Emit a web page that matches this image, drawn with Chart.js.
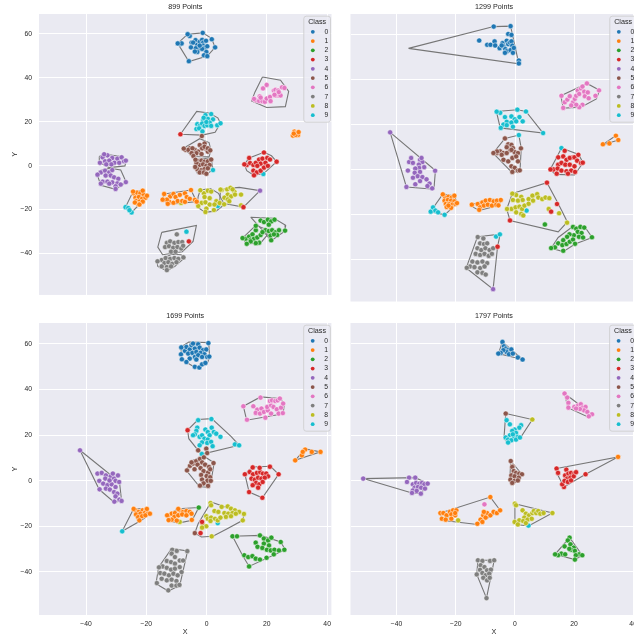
<!DOCTYPE html>
<html>
<head>
<meta charset="utf-8">
<script src="https://cdn.jsdelivr.net/npm/chart.js@4.4.1/dist/chart.umd.min.js"></script>
<style>
  html, body { margin: 0; padding: 0; background: #fff; overflow: hidden; }
  #fig { position: relative; width: 634px; height: 640px; overflow: hidden; }
  canvas { position: absolute; }
</style>
</head>
<body>
<div id="fig">
  <canvas id="p899" width="336" height="306" style="left:0;top:0"></canvas>
  <canvas id="p1299" width="296" height="306" style="left:346px;top:0"></canvas>
  <canvas id="p1699" width="336" height="334" style="left:0;top:306px"></canvas>
  <canvas id="p1797" width="296" height="334" style="left:346px;top:306px"></canvas>
</div>
<script>
// ---- data ----
const classes = ['0', '1', '2', '3', '4', '5', '6', '7', '8', '9'];
const panelTitles = ['899 Points', '1299 Points', '1699 Points', '1797 Points'];
const xTicks = [-40, -20, 0, 20, 40];
const yTicks = [-40, -20, 0, 20, 40, 60];

// points per class, [x, y]
const pts899 = [
  [[-8.7,55.4],[-8.3,55.7],[-5.6,59.1],[-5.0,56.1],[-5.2,53.9],[-3.7,57.2],[-3.2,55.1],[-2.3,56.4],[-1.5,57.3],[-1.1,56.1],[-0.2,56.9],[-1.2,54.7],[-2.8,52.9],[-3.6,53.5],[-0.7,53.7],[-1.5,53.2],[-0.1,51.8],[-0.9,50.3],[-3.1,51.8],[1.7,57.6],[-3.9,52.0],[-4.5,56.1],[-2.3,54.7],[0.2,54.4],[-9.6,55.7],[-6.3,59.9],[-1.3,60.5],[2.8,53.9],[0.2,49.9],[-5.9,47.6]],
  [[28.6,13.7],[29.1,15.5],[29.7,14.9],[30.3,14.0],[29.5,14.0],[28.9,14.6],[30.5,15.3],
   [-24.2,-12.6],[-23.1,-12.3],[-22.0,-12.6],[-20.9,-13.3],[-23.6,-14.6],[-22.5,-14.3],[-21.4,-15.1],[-20.3,-14.6],[-23.4,-16.1],[-22.3,-16.4],[-21.2,-16.4],[-22.7,-17.5],[-23.8,-16.8],[-24.4,-11.8],[-21.2,-11.4],[-19.8,-13.7],[-22.3,-17.7],
   [-12.1,-14.0],[-11.0,-12.9],[-10.3,-14.3],[-8.9,-13.3],[-7.2,-12.6],[-6.6,-14.3],[-5.6,-15.1],[-3.9,-15.6],[-12.4,-16.5],[-11.0,-16.9],[-9.6,-16.1],[-8.1,-16.1],[-7.2,-16.5],[-13.2,-15.5],[-14.1,-12.9],[-5.2,-11.1],[-3.3,-16.4],[-12.9,-17.4],[-14.6,-15.5]],
  [[17.9,-25.0],[19.0,-25.7],[20.3,-24.6],[21.4,-25.4],[22.5,-24.6],[20.6,-26.9],[19.5,-29.4],[20.6,-29.8],[21.7,-29.4],[22.8,-30.4],[23.4,-31.6],[21.2,-31.9],[22.3,-31.3],[24.0,-29.4],[26.0,-29.6],[21.4,-34.0],
   [13.0,-33.3],[14.1,-32.3],[15.2,-31.3],[16.3,-29.4],[14.6,-33.8],[15.7,-33.3],[16.8,-32.7],[17.9,-31.6],[17.4,-35.1],[16.3,-35.3],[14.6,-34.5],[18.5,-30.3],[16.3,-27.4],[11.9,-33.0],[13.3,-35.6]],
  [[13.3,0.3],[14.4,1.2],[15.5,0.3],[16.3,1.3],[17.4,2.8],[18.5,3.2],[20.1,3.5],[21.0,2.8],[17.9,0.9],[19.5,1.3],[16.8,-0.1],[15.5,-2.3],[16.6,-3.1],[17.9,-2.3],[19.0,-0.9],[20.3,-0.1],[12.5,0.6],[14.1,3.5],[19.0,6.0],[23.2,1.8],[15.7,-4.4],
   [-8.7,14.3],[12.2,-18.9],[-5.9,-34.5]],
  [[-34.5,3.8],[-32.9,4.7],[-31.3,3.5],[-29.6,3.2],[-28.2,3.8],[-33.7,2.0],[-32.3,2.3],[-30.6,1.3],[-29.0,1.3],[-27.4,2.0],[-31.6,0.6],[-33.3,0.6],[-34.0,5.2],[-26.8,2.3],[-35.4,1.3],
   [-35.1,-3.1],[-33.7,-2.3],[-32.3,-3.1],[-31.3,-2.0],[-33.5,-4.5],[-31.8,-4.5],[-30.7,-5.3],[-29.3,-6.0],[-34.5,-7.3],[-32.9,-7.3],[-31.3,-7.6],[-29.6,-8.1],[-28.5,-8.6],[-30.2,-9.4],[-35.1,-8.2],[-32.3,-8.2],[-36.2,-4.1],[-30.2,-10.6],[-26.8,-7.5],
   [17.7,-11.4]],
  [[-7.0,7.2],[-5.6,7.9],[-3.9,7.2],[-2.8,6.4],[-1.5,8.2],[-0.7,10.1],[-0.1,7.6],[0.4,6.4],[-2.3,9.4],[-6.1,7.2],[-4.7,7.9],[-1.5,7.9],[-0.7,8.6],[-3.4,5.7],[-1.7,5.3],[0.4,7.9],[-5.0,5.7],[-7.6,7.8],[-1.6,13.5],[1.2,7.0],[-4.4,4.4],
   [-2.8,2.0],[-1.7,2.3],[-0.7,1.8],[0.4,2.0],[-2.3,0.3],[-1.2,0.6],[-0.1,-0.1],[1.0,0.3],[-3.1,-1.6],[-1.7,-2.0],[-0.7,-1.6],[0.4,-1.2],[-2.3,-3.1],[-0.9,-3.1],[1.5,2.8],[-3.4,1.3],[-3.7,2.7],[-0.1,-3.7],[-3.8,-0.6]],
  [[18.7,35.2],[19.9,36.8],[17.6,31.6],[16.3,29.8],[17.4,29.5],[18.5,29.4],[19.3,29.1],[19.9,30.6],[21.0,31.3],[21.2,29.4],[22.3,34.2],[22.8,34.5],[23.7,34.2],[23.2,32.7],[23.7,32.0],[22.8,32.0],[24.5,32.0],[25.0,35.7],[25.8,35.4],[23.9,33.5],[22.5,32.3],[15.7,30.4],[17.9,31.0]],
  [[-9.9,-31.3],[-13.2,-35.2],[-12.1,-34.5],[-10.7,-35.2],[-9.4,-34.8],[-8.1,-34.8],[-13.8,-37.1],[-12.5,-36.7],[-11.1,-37.4],[-9.7,-37.1],[-8.4,-37.7],[-11.8,-39.2],[-10.3,-39.2],[-7.8,-36.5],
   [-14.9,-43.0],[-13.6,-42.1],[-12.1,-42.5],[-10.7,-42.1],[-9.4,-42.5],[-14.0,-44.4],[-12.7,-44.0],[-11.4,-44.7],[-10.0,-44.0],[-14.9,-45.9],[-13.2,-46.2],[-11.8,-45.9],[-13.2,-47.6],[-7.7,-41.8],[-16.3,-43.6]],
  [[-0.9,-12.6],[0.4,-11.4],[1.5,-11.8],[-0.7,-14.3],[1.0,-14.8],[3.2,-16.2],[4.3,-17.0],[-1.7,-17.0],[-0.4,-16.7],[1.0,-17.7],[2.6,-17.7],[-2.8,-18.4],[-0.1,-19.6],[2.4,-20.2],[-2.1,-11.2],[5.8,-17.6],[-0.4,-21.1],
   [5.0,-11.1],[6.8,-10.8],[7.9,-10.1],[9.2,-11.9],[7.0,-13.2],[8.1,-14.0],[9.4,-13.2],[11.4,-13.2],[5.9,-14.6],[7.0,-15.4],[7.5,-16.2],[11.4,-18.1],[8.6,-10.8],[4.6,-10.9],
   [-8.5,-17.0]],
  [[-0.4,23.0],[1.5,23.5],[0.4,21.3],[-1.2,20.8],[2.1,21.1],[-3.1,18.9],[-2.3,18.1],[-1.5,19.2],[-0.7,18.1],[0.2,18.4],[1.0,19.6],[1.5,18.1],[3.5,18.4],[-3.4,16.7],[-2.5,17.0],[-1.4,15.6],[-0.1,19.9],[-1.0,21.8],[4.6,19.3],
   [2.1,-2.0],[-26.9,-18.9],[-26.0,-19.3],[-24.9,-21.3],[-25.6,-20.3],[3.7,-18.4],[18.8,-3.8],[-6.7,-30.1]]
];

const pts1299 = [
  [[-7.2,63.5],[-1.5,63.7],[-12.1,57.3],[-9.4,55.4],[-8.3,55.4],[-6.9,56.9],[-6.7,55.1],[-5.2,53.9],[-4.2,56.1],[-3.9,54.7],[-3.3,53.5],[-2.8,57.2],[-2.3,55.7],[-1.7,56.4],[-1.2,56.9],[-0.9,55.0],[-2.8,52.5],[-1.5,53.0],[-0.7,51.8],[-3.4,51.8],[-2.3,60.2],[-1.2,59.8],[-0.4,54.0],[1.3,48.4],[1.3,47.1],[-4.5,55.1]],
  [[29.7,11.1],[31.9,11.5],[34.1,14.9],[34.9,13.0],
   [-23.6,-12.6],[-22.5,-12.3],[-21.4,-12.6],[-23.8,-14.0],[-22.7,-13.7],[-21.6,-14.0],[-20.5,-14.3],[-23.4,-15.5],[-22.3,-15.5],[-21.2,-15.8],[-20.1,-15.5],[-23.1,-16.8],[-21.6,-17.2],[-22.5,-16.2],[-24.4,-11.2],[-20.5,-11.8],[-19.6,-15.1],
   [-14.6,-15.8],[-12.6,-15.5],[-11.0,-14.8],[-9.9,-14.0],[-8.5,-13.7],[-7.2,-14.3],[-6.1,-14.0],[-4.8,-13.7],[-11.8,-17.0],[-10.5,-16.2],[-9.2,-15.8],[-7.8,-16.2],[-6.3,-15.8],[-12.1,-18.1],[-5.6,-16.1]],
  [[19.6,-25.7],[20.7,-26.5],[22.1,-25.7],[23.4,-26.0],[21.2,-27.9],[22.5,-28.4],[19.9,-29.4],[21.6,-30.1],[23.0,-30.4],[18.4,-29.0],[17.6,-30.1],[16.3,-31.6],[14.6,-33.0],[16.0,-33.8],[17.4,-33.3],[18.5,-32.3],[13.5,-34.8],[16.3,-36.3],[19.6,-31.3],[12.2,-35.1],[26.0,-30.3],[20.3,-33.2],
   [10.1,-24.6]],
  [[16.8,8.2],[14.6,5.3],[19.6,5.3],[16.3,5.7],[17.4,4.2],[18.5,5.0],[20.1,5.3],[21.0,3.8],[22.3,2.8],[14.6,2.0],[15.7,2.8],[17.0,2.0],[18.5,2.0],[20.1,1.3],[13.0,-0.1],[14.4,0.3],[15.7,-0.6],[17.4,-0.9],[19.0,-0.6],[20.3,-1.2],[14.1,-2.0],[17.9,-2.0],[21.4,6.4],[22.9,2.9],[12.0,-0.1],
   [10.8,-6.0],[14.2,-15.5],[12.2,-18.9],[-1.7,-22.8],[-5.9,-34.5]],
  [[-42.2,16.4],[-35.8,3.2],[-34.5,2.8],[-32.1,4.2],[-31.3,3.2],[-32.5,2.0],[-30.7,0.9],[-32.4,0.6],[-33.7,0.3],[-36.2,-0.6],[-33.9,-1.6],[-32.1,-1.2],[-32.9,-3.1],[-34.5,-3.8],[-31.3,-3.5],[-29.9,-4.5],[-28.9,-6.4],[-32.1,-5.3],[-33.7,-6.7],[-36.7,-7.9],[-28.0,-8.5],[-31.6,5.0],[-35.1,5.0],[-29.6,-7.5],[-27.0,-0.7],
   [-7.4,-53.4]],
  [[-6.1,7.2],[-5.0,7.9],[-3.9,7.2],[-2.3,11.1],[-1.2,10.8],[-0.7,9.4],[-1.7,8.6],[-0.1,7.6],[1.0,7.2],[-2.8,9.8],[-3.4,13.7],[-6.1,7.9],[-4.5,6.4],[-2.8,7.2],[-1.2,8.6],[-3.9,4.2],[-2.3,3.5],[-0.9,5.0],[0.4,5.7],[-1.2,1.3],[-0.1,0.6],[1.0,-0.6],[-0.9,-1.2],[1.0,3.5],[-7.3,7.2],[2.0,9.3],[1.6,-0.5]],
  [[15.7,32.7],[16.8,29.8],[17.7,31.0],[18.5,32.5],[19.6,29.8],[20.2,31.3],[20.7,32.7],[21.2,35.0],[21.7,33.5],[22.3,36.0],[22.8,36.8],[23.4,34.5],[23.6,32.5],[24.3,38.2],[24.6,34.2],[24.9,31.6],[22.8,28.7],[21.7,27.6],[20.7,28.7],[27.2,32.7],[19.0,28.4],[28.4,35.1],[16.3,27.3]],
  [[-10.7,-30.8],[-11.8,-33.0],[-10.5,-33.3],[-9.4,-33.0],[-12.7,-35.2],[-11.4,-36.0],[-10.0,-35.2],[-8.6,-36.0],[-7.4,-35.2],[-13.3,-37.7],[-11.8,-38.2],[-10.3,-37.7],[-8.9,-38.6],[-7.8,-37.7],[-14.4,-41.1],[-12.7,-41.5],[-11.0,-41.1],[-9.4,-41.8],[-15.2,-43.3],[-13.7,-43.6],[-11.8,-44.0],[-10.3,-43.3],[-12.7,-45.9],[-11.0,-46.2],[-9.9,-46.9],[-12.6,-30.2],[-16.3,-43.9]],
  [[0.4,-11.5],[2.1,-12.3],[-0.7,-13.7],[1.0,-14.0],[2.6,-13.7],[4.6,-13.3],[5.9,-11.8],[7.5,-11.1],[6.1,-14.0],[7.9,-12.6],[9.2,-13.3],[10.3,-12.6],[11.6,-12.9],[-1.2,-17.7],[0.2,-17.0],[1.5,-16.7],[2.4,-17.7],[0.4,-19.2],[2.1,-19.9],[2.8,-20.6],[3.2,-16.2],[11.4,-17.7],[14.9,-19.6],[17.6,-23.8],[4.6,-15.4],[-0.9,-10.9],[-2.7,-17.7]],
  [[0.8,26.5],[3.7,25.7],[-5.0,25.1],[-3.4,23.2],[-1.2,23.5],[1.5,23.2],[-0.1,22.2],[-2.8,21.1],[-1.2,20.8],[0.4,21.3],[2.6,21.3],[-3.9,19.9],[-2.8,19.6],[-0.7,18.9],[-4.8,18.4],[9.5,16.1],[-6.2,25.6],
   [1.3,15.2],[15.7,9.4],[-28.5,-18.9],[-27.7,-17.0],[-26.9,-18.4],[-26.0,-19.2],[-23.8,-20.3],[3.9,-18.4],[-6.4,-30.0],[-5.1,-29.0]]
];

const pts1699 = [
  [[-8.5,55.4],[-7.2,56.9],[-6.7,58.6],[-5.6,57.5],[-5.0,59.4],[-3.9,57.9],[-2.8,59.8],[-2.3,58.3],[-1.2,57.2],[-0.1,57.5],[-6.1,55.7],[-4.7,56.0],[-3.4,56.4],[-2.0,56.0],[-0.7,55.4],[-3.9,54.2],[-2.8,55.0],[-1.5,54.2],[0.2,54.2],[-5.6,53.5],[-3.4,53.1],[-6.7,52.0],[-3.9,49.9],[-2.4,49.6],[-1.5,51.0],[-0.4,51.6],[-4.5,60.1],[-8.4,58.4],[0.6,60.3],[0.9,54.4],[-8.2,53.2]],
  [[29.4,8.9],[31.6,11.1],[32.7,13.6],[34.9,12.6],[37.8,12.6],[31.9,12.6],
   [-23.6,-13.0],[-22.5,-13.7],[-21.2,-13.0],[-20.1,-12.7],[-23.4,-14.8],[-21.9,-14.5],[-20.5,-14.2],[-19.4,-14.2],[-22.7,-16.0],[-21.4,-15.6],[-22.3,-17.4],[-20.3,-15.2],[-24.2,-12.4],[-19.8,-12.4],[-18.8,-14.5],
   [-12.7,-15.2],[-11.6,-14.5],[-10.5,-14.2],[-8.9,-13.0],[-7.8,-13.7],[-6.7,-13.3],[-5.6,-13.7],[-5.0,-14.5],[-10.7,-15.9],[-9.4,-15.2],[-8.1,-14.8],[-6.7,-15.2],[-11.6,-17.1],[-9.9,-17.5],[-13.1,-15.2],[-9.4,-12.4],[-4.9,-17.2],[-12.6,-17.3]],
  [[8.6,-24.4],[10.1,-24.4],[17.7,-24.0],[19.0,-25.4],[20.4,-26.2],[21.5,-25.0],[24.6,-26.9],[16.3,-27.2],[19.0,-27.6],[20.7,-28.4],[16.9,-29.0],[18.5,-29.5],[20.0,-30.3],[21.3,-30.6],[22.5,-30.3],[24.0,-30.6],[25.8,-30.3],[12.5,-32.7],[13.8,-33.5],[15.2,-33.1],[16.3,-34.2],[17.7,-34.6],[19.9,-33.8],[14.1,-37.6],[22.3,-32.3],
   [-2.6,-11.8]],
  [[12.7,2.8],[14.1,-5.0],[18.5,-7.5],[23.9,2.8],[14.3,3.8],[15.4,2.8],[16.7,3.4],[17.8,3.7],[18.7,3.1],[19.8,3.1],[20.4,1.9],[14.9,0.9],[16.0,0.4],[17.1,1.3],[18.2,0.9],[19.3,1.3],[16.4,-1.0],[17.5,-1.6],[18.6,-0.6],[15.3,-2.0],[17.1,-3.1],[17.6,5.6],[15.3,5.8],[21.0,6.1],
   [-6.3,22.1],[-2.0,-23.0],[-1.5,-18.1]],
  [[-42.0,13.3],[-36.2,3.1],[-34.8,3.4],[-33.4,2.3],[-31.8,1.9],[-30.7,0.9],[-30.2,-0.1],[-35.6,-0.1],[-34.3,-1.3],[-32.9,-2.0],[-31.5,-1.6],[-30.2,-2.8],[-33.4,-3.5],[-32.1,-3.9],[-30.7,-5.0],[-29.6,-5.7],[-30.2,-6.9],[-28.9,-8.3],[-28.2,-8.9],[-33.6,0.9],[-32.2,0.1],[-31.1,3.1],[-29.4,2.3],[-29.0,-0.6],[-30.6,-9.2],[-35.5,-3.8]],
  [[-6.5,4.5],[-5.5,6.5],[-4.5,7.5],[-3.5,8.5],[-2.2,9.5],[-0.9,10.2],[-1.5,8.0],[-3.0,7.0],[-0.5,7.0],[0.8,6.0],[-2.0,5.5],[-4.0,5.0],[-1.0,4.2],[0.5,3.5],[-1.8,2.5],[0.0,2.0],[1.2,1.5],[-1.5,0.5],[0.3,0.0],[-1.0,-1.2],[0.5,-2.3],[-2.2,-2.2],[1.2,5.0],[-5.0,8.0],[2.3,7.7],[1.4,-0.1],
   [-2.8,13.3],[-0.1,14.0],[0.2,12.1],[-3.9,-23.0]],
  [[12.2,32.6],[15.5,32.6],[17.9,36.4],[16.8,31.1],[18.2,31.6],[16.3,29.7],[17.7,29.4],[19.0,30.1],[20.3,30.8],[20.1,32.3],[21.4,33.0],[21.0,34.9],[21.7,35.2],[22.8,34.9],[23.6,35.2],[24.3,36.0],[22.2,32.3],[23.3,31.3],[24.7,32.0],[25.4,33.8],[21.4,29.4],[19.5,27.6],[23.9,29.4],[25.3,29.6],[13.4,26.7]],
  [[-11.4,-30.3],[-9.9,-30.8],[-11.6,-32.0],[-10.5,-33.5],[-13.2,-35.2],[-11.8,-35.7],[-10.5,-36.4],[-8.9,-35.0],[-7.8,-35.0],[-14.6,-37.6],[-13.2,-38.2],[-11.8,-39.0],[-10.5,-38.6],[-8.9,-37.9],[-8.3,-40.1],[-15.4,-40.5],[-14.0,-40.8],[-12.5,-41.5],[-11.0,-40.8],[-9.6,-41.5],[-14.9,-43.0],[-13.2,-43.7],[-11.6,-43.4],[-10.0,-44.0],[-16.5,-44.9],[-12.7,-48.1],[-11.6,-46.0],[-10.0,-46.0],[-6.4,-30.9],[-9.0,-45.7],[-15.8,-38.0]],
  [[1.3,-9.8],[1.5,-10.8],[2.6,-13.3],[3.9,-13.7],[5.0,-11.5],[7.0,-11.3],[8.1,-12.3],[9.4,-13.0],[10.8,-13.7],[12.0,-17.4],[5.9,-14.2],[7.2,-14.5],[8.6,-14.2],[9.7,-14.5],[6.4,-15.9],[8.1,-15.6],[-0.1,-15.6],[0.4,-16.7],[1.5,-16.2],[2.8,-16.7],[3.7,-17.4],[4.6,-16.2],[1.3,-17.7],[-1.2,-19.6],[-0.1,-20.0],[-1.5,-20.6],[1.7,-24.4],[12.4,-14.6],[-8.9,-18.1]],
  [[-2.8,26.5],[-3.1,23.2],[-3.4,21.8],[-3.9,20.3],[-4.5,19.9],[-2.3,19.2],[-1.5,19.9],[-0.4,22.4],[0.4,21.3],[1.0,19.9],[1.7,23.2],[2.4,21.3],[3.2,20.6],[4.6,19.2],[-0.7,18.4],[0.4,18.0],[-1.5,16.8],[0.2,16.5],[1.5,17.0],[-2.3,15.5],[2.0,15.1],[9.4,15.9],[10.8,15.5],[1.6,27.0],[-1.6,11.7],
   [-28.0,-22.2],[-23.1,-15.2],[3.7,-18.6]]
];

const pts1797 = [
  [[-4.2,60.8],[-3.7,58.9],[-3.1,57.9],[-2.3,57.2],[-1.7,56.4],[-2.8,56.4],[-3.9,57.2],[-1.2,57.5],[-4.8,56.0],[-5.6,55.7],[1.0,54.0],[2.6,53.1],[-2.0,55.4],[-0.7,55.7]],
  [[-25.2,-14.2],[-24.2,-14.2],[-23.1,-15.2],[-22.0,-13.7],[-20.9,-13.0],[-19.8,-13.0],[-21.5,-14.8],[-20.2,-15.2],[-24.7,-16.7],[-23.4,-17.1],[-21.5,-16.7],[-20.2,-14.2],[-11.6,-17.1],[-10.7,-15.2],[-9.4,-14.2],[-8.3,-15.2],[-7.2,-13.7],[-6.1,-14.2],[-5.0,-13.0],[-10.5,-13.7],[-9.9,-16.2],[-11.0,-18.1],[-12.7,-18.9],[-8.3,-7.2],
   [34.9,10.4]],
  [[18.5,-25.0],[17.9,-26.2],[16.8,-28.8],[18.8,-27.9],[19.9,-29.4],[19.0,-30.3],[20.3,-30.8],[15.7,-32.0],[14.6,-32.7],[13.6,-32.3],[17.0,-32.3],[21.7,-32.3],[22.8,-32.7],[20.6,-32.7],[20.3,-34.6],[18.4,-29.9]],
  [[14.1,5.3],[14.6,3.4],[16.6,-2.8],[16.0,-1.6],[17.4,4.8],[17.0,2.3],[18.1,3.1],[19.0,3.4],[20.1,3.1],[17.7,0.9],[18.8,1.3],[19.9,1.9],[16.8,-0.1],[17.9,-0.6],[19.0,0.1],[23.9,2.8],[20.7,3.7]],
  [[-51.3,0.9],[-35.8,1.3],[-33.7,1.3],[-36.5,-0.6],[-34.5,-1.6],[-33.4,-1.0],[-32.3,-1.3],[-31.4,-1.0],[-30.6,-1.6],[-29.5,-1.3],[-33.9,-3.1],[-32.8,-2.8],[-31.7,-3.1],[-34.5,-4.3],[-33.2,-4.5],[-31.8,-5.7],[-34.8,-5.4],[-30.4,-3.5]],
  [[-1.4,8.6],[-0.7,6.3],[-0.9,6.0],[-0.4,4.2],[0.4,3.4],[1.5,3.1],[2.4,2.8],[-1.2,2.3],[-0.1,1.9],[1.3,1.3],[-1.5,0.4],[-0.1,-0.1],[-0.9,-1.0],[1.0,0.1],
   [-3.1,29.4]],
  [[16.8,38.2],[17.7,36.4],[18.1,34.1],[18.1,32.0],[20.1,32.3],[21.4,33.0],[22.3,33.5],[22.8,32.0],[23.9,32.3],[23.4,30.8],[24.5,30.1],[26.1,29.1],[25.0,28.2],[22.0,31.4],[20.7,31.6],
   [-10.3,-10.4]],
  [[-12.5,-34.9],[-11.0,-35.2],[-8.4,-35.2],[-7.0,-34.9],[-11.6,-37.1],[-10.3,-37.9],[-11.8,-39.1],[-9.4,-39.3],[-8.1,-39.0],[-11.0,-40.5],[-9.9,-41.5],[-8.7,-40.8],[-12.9,-41.1],[-10.7,-42.6],[-9.4,-43.7],[-8.5,-42.6],[-9.6,-51.5]],
  [[0.0,-10.1],[0.4,-10.8],[2.6,-13.0],[3.7,-14.5],[4.8,-15.2],[5.9,-14.2],[6.4,-13.3],[7.2,-14.2],[7.9,-13.3],[8.6,-14.5],[9.7,-14.2],[12.7,-14.2],[3.2,-16.2],[1.5,-17.4],[2.8,-17.7],[4.3,-17.1],[5.7,-16.7],[-0.1,-18.1],[1.0,-19.2],[3.7,-18.6],
   [-19.2,-17.4],[5.9,26.8]],
  [[-2.8,26.5],[-1.7,24.7],[2.1,24.3],[1.5,23.2],[-0.1,22.4],[-0.9,21.8],[0.4,20.9],[-1.7,19.9],[-0.4,19.4],[1.0,19.2],[-3.1,18.9],[-2.3,18.0],[-1.2,17.7],[0.4,18.0],[1.7,18.9],[-2.3,16.7],[-0.7,20.3],
   [-23.1,-15.6],[4.6,-19.7]]
];

// convex outlines of the clusters, [x, y] vertices
const hull899 = [
  [[-9.6,55.7],[-6.3,59.9],[-1.3,60.5],[1.6,58.0],[2.8,53.9],[0.2,49.9],[-5.9,47.4]],
  [[18.5,40.4],[24.5,38.9],[27.2,33.8],[26.1,26.9],[19.9,26.5],[14.9,29.5],[16.0,33.5]],
  [[-8.7,14.3],[-3.3,24.7],[0.7,24.0],[3.7,21.8],[4.6,19.3],[2.8,15.2],[-1.5,13.9]],
  [[28.5,13.3],[29.0,15.8],[30.5,15.5],[30.6,13.6]],
  [[-7.8,7.8],[-2.3,12.3],[0.8,10.5],[1.4,7.0],[0.8,4.0],[-4.5,4.2]],
  [[-3.7,2.8],[1.5,3.5],[2.1,-2.0],[-0.1,-3.8],[-3.1,-3.5],[-3.9,-0.6]],
  [[-35.6,4.2],[-34.0,5.3],[-28.5,4.2],[-26.7,2.3],[-27.1,-0.1],[-32.3,-0.9],[-35.4,1.3]],
  [[-35.6,-2.3],[-32.1,-1.2],[-28.5,-2.0],[-26.7,-7.5],[-30.2,-10.8],[-35.1,-8.9],[-36.3,-4.1]],
  [[-26.9,-18.9],[-24.4,-11.8],[-21.2,-11.4],[-19.8,-13.7],[-22.3,-17.7],[-24.9,-21.3]],
  [[-14.1,-12.9],[-5.2,-11.1],[-3.3,-16.4],[-8.9,-17.2],[-12.9,-17.4],[-14.6,-15.5]],
  [[-2.1,-11.1],[1.3,-10.4],[3.9,-12.6],[5.9,-17.7],[3.2,-20.6],[-0.4,-21.3],[-3.3,-18.7],[-2.8,-14.0]],
  [[4.6,-10.8],[10.8,-9.9],[17.7,-11.4],[12.2,-18.9],[7.5,-17.7],[4.3,-16.7]],
  [[12.5,0.6],[14.1,3.5],[19.0,6.1],[21.5,4.5],[23.2,1.8],[19.0,-3.5],[15.7,-4.5],[13.3,-2.3]],
  [[14.6,-23.5],[22.3,-24.0],[26.2,-27.2],[26.0,-29.8],[21.4,-34.2],[18.8,-29.8]],
  [[11.9,-33.0],[16.3,-27.2],[19.6,-28.9],[20.1,-31.6],[17.9,-35.2],[13.3,-35.7]],
  [[-14.9,-30.4],[-3.4,-27.2],[-4.5,-34.5],[-8.1,-39.2],[-14.6,-40.6],[-16.2,-37.1]],
  [[-16.5,-43.6],[-11.6,-40.4],[-8.5,-40.6],[-7.4,-42.1],[-10.5,-45.9],[-13.2,-47.9],[-16.2,-45.9]]
];

const hull1299 = [
  [[-36.0,53.8],[-7.2,63.5],[-1.5,63.7],[1.3,46.9]],
  [[15.5,32.7],[24.3,38.2],[28.6,35.2],[27.5,31.3],[22.3,27.6],[16.3,27.2]],
  [[-6.3,25.7],[0.8,26.5],[3.7,25.7],[9.5,16.1],[-5.0,18.4]],
  [[29.5,10.8],[34.1,15.0],[35.0,13.0]],
  [[-42.2,16.4],[-26.9,-0.6],[-27.4,-8.9],[-36.7,-7.9]],
  [[-7.4,7.2],[-3.4,13.7],[1.3,15.2],[2.1,9.4],[1.7,-0.6],[-0.9,-1.6]],
  [[15.7,9.4],[21.5,6.6],[23.0,2.9],[20.1,-2.6],[13.6,-2.3],[11.9,-0.1],[14.2,5.5]],
  [[-28.5,-18.9],[-27.4,-16.7],[-24.4,-11.1],[-20.5,-11.8],[-19.5,-15.2],[-23.8,-20.3]],
  [[-14.9,-15.8],[-8.5,-13.3],[-4.5,-13.7],[-5.6,-16.2],[-12.1,-18.4],[-14.0,-17.0]],
  [[-0.9,-10.8],[10.8,-6.0],[14.4,-14.8],[17.7,-23.5],[14.6,-27.9],[-1.7,-22.8],[-2.8,-17.7]],
  [[12.2,-35.2],[14.6,-30.4],[19.6,-25.4],[23.6,-25.7],[26.1,-30.4],[20.3,-33.3],[16.3,-36.7]],
  [[-12.7,-30.1],[-5.0,-28.9],[-5.9,-34.5],[-7.4,-53.4],[-16.5,-44.0]]
];

const hull1699 = [
  [[-8.5,58.6],[-5.9,60.8],[0.7,60.5],[1.0,54.2],[0.2,51.3],[-2.8,49.6],[-4.5,50.1],[-8.3,53.1]],
  [[12.2,32.6],[17.9,36.7],[24.3,36.0],[25.8,33.8],[25.4,29.4],[23.6,28.9],[13.3,26.5]],
  [[-6.3,22.1],[-2.8,26.8],[1.7,27.2],[8.1,19.4],[10.8,15.5],[-1.7,11.5],[-2.8,13.3],[-5.9,18.4]],
  [[29.4,8.9],[32.7,13.9],[37.8,12.6]],
  [[-42.0,13.3],[-28.9,-0.6],[-28.2,-8.9],[-30.7,-9.4],[-35.6,-3.9]],
  [[-6.8,4.6],[-4.5,9.0],[-0.8,10.6],[2.5,7.8],[1.5,-0.2],[0.1,-2.9],[-2.4,-2.6]],
  [[12.7,2.8],[15.2,6.0],[21.2,6.3],[23.9,2.8],[18.5,-7.5],[14.1,-5.0]],
  [[-28.0,-22.2],[-24.2,-12.3],[-19.8,-12.3],[-18.7,-14.5],[-21.6,-17.4]],
  [[-13.2,-15.2],[-9.4,-12.3],[-2.6,-11.8],[-4.8,-17.4],[-9.4,-18.6],[-12.7,-17.4]],
  [[1.5,-9.4],[12.5,-14.5],[12.0,-17.4],[7.0,-21.0],[2.1,-24.4],[-1.7,-24.7],[-3.9,-23.0],[-2.8,-18.9]],
  [[8.6,-24.4],[18.0,-24.0],[24.6,-26.9],[26.1,-30.3],[14.1,-37.6],[11.9,-32.7]],
  [[-11.6,-29.8],[-6.3,-30.8],[-8.9,-45.9],[-12.7,-48.4],[-16.8,-45.2],[-15.9,-37.9]]
];

const hull1797 = [
  [[-4.2,60.8],[2.6,53.1],[-5.6,55.7]],
  [[16.8,38.2],[26.1,29.1],[24.7,27.9],[17.9,32.0]],
  [[-3.1,29.4],[5.9,26.8],[1.7,18.4],[-2.3,16.5],[-3.7,18.4]],
  [[-1.4,8.6],[2.4,2.8],[1.0,-0.1],[-0.9,-1.3],[-1.7,0.9]],
  [[14.1,5.3],[34.9,10.4],[23.9,2.8],[16.6,-2.8],[14.3,3.0]],
  [[-51.3,0.9],[-33.7,1.3],[-29.3,-1.3],[-31.8,-5.7],[-34.8,-5.4]],
  [[-25.2,-14.2],[-8.3,-7.2],[-5.0,-13.0],[-12.7,-19.2],[-24.7,-17.4]],
  [[0.0,-10.1],[12.7,-14.2],[4.6,-19.9],[0.4,-19.2],[-0.1,-18.1]],
  [[18.5,-25.0],[22.8,-32.7],[20.3,-34.6],[13.6,-32.3]],
  [[-12.5,-34.9],[-7.0,-34.9],[-9.6,-51.5],[-12.9,-41.1]]
];

// ---- style ----
const palette = ['#1f77b4','#ff7f0e','#2ca02c','#d62728','#9467bd','#8c564b','#e377c2','#7f7f7f','#bcbd22','#17becf'];
const FONT = '"Liberation Sans", Arial, sans-serif';
const TXT = '#262626';
const X_RANGE = [-55.6, 41.4];
const Y_RANGE = [-58.9, 69.1];

const minus = v => (v < 0 ? '\u2212' + Math.abs(v) : String(v));

const panelDecor = {
  id: 'panelDecor',
  beforeDraw(chart) {
    const { ctx, chartArea: a } = chart;
    ctx.save();
    ctx.fillStyle = '#eaeaf2';
    ctx.fillRect(a.left, a.top, a.right - a.left, a.bottom - a.top);
    ctx.restore();
  },
  afterDraw(chart, args, opts) {
    const { ctx, chartArea: a } = chart;
    ctx.save();
    // title
    ctx.fillStyle = TXT;
    ctx.font = '7.2px ' + FONT;
    ctx.textAlign = 'center';
    ctx.textBaseline = 'middle';
    ctx.fillText(opts.title, (a.left + a.right) / 2, a.top - 7);
    // legend
    const bx = a.right - 27.7, by = a.top + 2.2, bw = 26.7, bh = 106;
    ctx.beginPath();
    ctx.roundRect(bx, by, bw, bh, 2.5);
    ctx.fillStyle = 'rgba(234,234,242,0.8)';
    ctx.fill();
    ctx.strokeStyle = '#cccccc';
    ctx.lineWidth = 0.8;
    ctx.stroke();
    ctx.fillStyle = TXT;
    ctx.fillText('Class', bx + bw / 2, a.top + 8.4);
    ctx.font = '6.8px ' + FONT;
    classes.forEach((c, i) => {
      const yy = a.top + 17.8 + i * 9.26;
      ctx.beginPath();
      ctx.arc(a.right - 18.7, yy, 1.9, 0, Math.PI * 2);
      ctx.fillStyle = palette[i];
      ctx.fill();
      ctx.fillStyle = TXT;
      ctx.textAlign = 'center';
      ctx.fillText(c, a.right - 5.2, yy);
    });
    ctx.restore();
  }
};

function makePanel(id, title, pts, hulls, showX, showY, padTop) {
  const datasets = [];
  hulls.forEach(h => {
    datasets.push({
      data: h.concat([h[0]]).map(p => ({ x: p[0], y: p[1] })),
      showLine: true,
      borderColor: '#767676',
      borderWidth: 1.1,
      pointRadius: 0,
      fill: false,
      order: 2
    });
  });
  classes.forEach((c, i) => {
    datasets.push({
      label: c,
      data: pts[i].map(p => ({ x: p[0], y: p[1] })),
      backgroundColor: palette[i],
      borderColor: '#ffffff',
      borderWidth: 0.5,
      pointRadius: 2.6,
      order: 1
    });
  });

  new Chart(document.getElementById(id), {
    type: 'scatter',
    data: { datasets },
    plugins: [panelDecor],
    options: {
      responsive: false,
      animation: false,
      events: [],
      layout: { padding: { top: padTop, right: showY ? 1 : 0, left: 0, bottom: 0 } },
      plugins: {
        legend: { display: false },
        tooltip: { enabled: false },
        panelDecor: { title }
      },
      scales: {
        x: {
          type: 'linear',
          min: X_RANGE[0], max: X_RANGE[1],
          afterBuildTicks: s => { s.ticks = xTicks.map(v => ({ value: v })); },
          afterFit: s => { s.height = showX ? 25 : 0; },
          grid: { color: '#ffffff', lineWidth: 1, drawTicks: false },
          border: { display: false },
          ticks: { display: showX, padding: 5, color: TXT, font: { family: FONT, size: 6.8 }, callback: minus, maxRotation: 0 },
          title: { display: showX, text: 'X', color: TXT, font: { family: FONT, size: 7.2 }, padding: { top: 0, bottom: 3.4 } }
        },
        y: {
          type: 'linear',
          min: Y_RANGE[0], max: Y_RANGE[1],
          afterBuildTicks: s => { s.ticks = yTicks.map(v => ({ value: v })); },
          afterFit: s => { s.width = showY ? 39 : 0; },
          grid: { color: '#ffffff', lineWidth: 1, drawTicks: false },
          border: { display: false },
          ticks: { display: showY, padding: 7, color: TXT, font: { family: FONT, size: 6.8 }, callback: minus },
          title: { display: showY, text: 'Y', color: TXT, font: { family: FONT, size: 7.2 }, padding: { top: 10.5, bottom: 0 } }
        }
      }
    }
  });
}

makePanel('p899', panelTitles[0], pts899, hull899, false, true, 14);
makePanel('p1299', panelTitles[1], pts1299, hull1299, false, false, 14);
makePanel('p1699', panelTitles[2], pts1699, hull1699, true, true, 17);
makePanel('p1797', panelTitles[3], pts1797, hull1797, true, false, 17);
</script>
</body>
</html>
